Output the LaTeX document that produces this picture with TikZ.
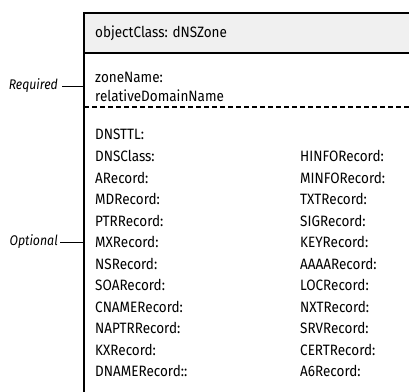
\documentclass[tikz,border=0pt]{standalone}
\usepackage{fontspec}
\setmainfont[FakeStretch=0.9]{Fira Sans}
\newfontfamily\sidefont[FakeStretch=0.88]{Fira Sans}
\begin{document}
\begin{tikzpicture}[x=1pt,y=-1pt,
  lbl/.style={anchor=west,inner sep=0pt,font=\fontsize{15}{17}\selectfont},
  side/.style={anchor=east,inner sep=0pt,font=\sidefont\fontsize{14}{16}\selectfont\itshape},
  border/.style={line width=2.6pt,black},
  conn/.style={line width=0.9pt,black}]
\useasboundingbox (0,0) rectangle (409,391);
% header
\fill[gray!12] (84,13) rectangle (412,53);
\draw[line width=1.8pt] (84,13) -- (412,13);
\draw[line width=1.4pt] (84,53) -- (412,53);
\draw[line width=2pt,dash pattern=on 5pt off 3pt] (84,107) -- (412,107);
\draw[border] (84,12) -- (84,393);
\node[lbl] (oc) at (95,33) {objectClass: dNSZone};
\node[lbl] (zn) at (95,77) {zoneName:};
\node[lbl] (rdn) at (95,96) {relativeDomainName};
% optional attributes
\foreach \t [count=\i from 0] in {DNSTTL:,DNSClass:,ARecord:,MDRecord:,PTRRecord:,MXRecord:,NSRecord:,SOARecord:,CNAMERecord:,NAPTRRecord:,KXRecord:,DNAMERecord::}
  \node[lbl] (l\i) at (95,134.5+21.5*\i) {\t};
\foreach \t [count=\i from 1] in {HINFORecord:,MINFORecord:,TXTRecord:,SIGRecord:,KEYRecord:,AAAARecord:,LOCRecord:,NXTRecord:,SRVRecord:,CERTRecord:,A6Record:}
  \node[lbl] (r\i) at (300,134.5+21.5*\i) {\t};
% side labels
\node[side] (req) at (58,86) {Required};
\node[side] (opt) at (58,242) {Optional};
\coordinate (reqend) at (84,86);
\coordinate (optend) at (84,242);
\draw[conn] ([xshift=4pt]req.east) -- (reqend);
\draw[conn] ([xshift=2pt]opt.east) -- (optend);
\end{tikzpicture}
\end{document}
